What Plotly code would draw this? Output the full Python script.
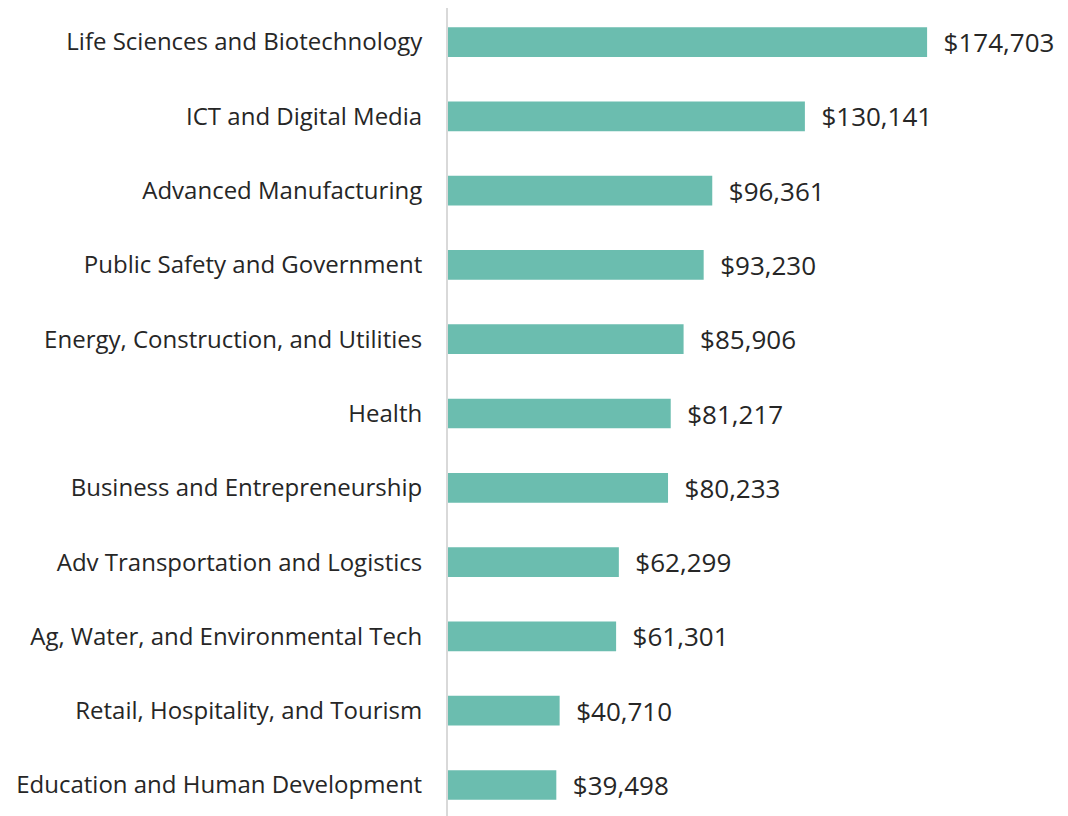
import plotly.graph_objects as go

categories = [
    "Life Sciences and Biotechnology",
    "ICT and Digital Media",
    "Advanced Manufacturing",
    "Public Safety and Government",
    "Energy, Construction, and Utilities",
    "Health",
    "Business and Entrepreneurship",
    "Adv Transportation and Logistics",
    "Ag, Water, and Environmental Tech",
    "Retail, Hospitality, and Tourism",
    "Education and Human Development",
]
values = [174703, 130141, 96361, 93230, 85906, 81217, 80233, 62299, 61301, 40710, 39498]
labels = ["\u00a0\u00a0$" + f"{v:,}" for v in values]

FONT = "Open Sans"
fig = go.Figure(go.Bar(
    x=values, y=categories, orientation="h",
    marker=dict(color="#6BBDAF", line=dict(width=0)),
    text=labels, textposition="outside", cliponaxis=False, constraintext="none",
    textfont=dict(family=FONT, size=26, color="#262626"),
    hoverinfo="skip",
))
fig.update_layout(
    width=1068, height=816,
    margin=dict(l=440, r=0, t=0, b=0),
    paper_bgcolor="white", plot_bgcolor="white",
    bargap=0.6, showlegend=False,
    font=dict(family=FONT, size=24, color="#262626"),
)
fig.update_xaxes(range=[0, 229000], visible=False, showgrid=False, zeroline=False)
fig.update_yaxes(
    categoryorder="array", categoryarray=categories,
    range=[10.525, -0.458], showgrid=False, zeroline=False,
    showline=True, linecolor="#d9d9d9", linewidth=2,
    ticks="", ticklabelstandoff=19,
    tickfont=dict(family=FONT, size=24, color="#262626"),
)
fig.write_html("out.html")
